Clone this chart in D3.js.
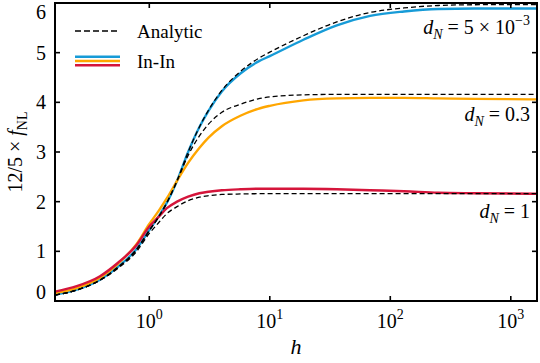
<!DOCTYPE html>
<html>
<head>
<meta charset="utf-8">
<script src="https://cdn.jsdelivr.net/npm/d3@7"></script>
<style>
  body { margin: 0; background: #fff; }
  svg { display: block; }
</style>
</head>
<body>
<svg id="chart" width="540" height="363"></svg>
<script>
// sample points along h (shared by every curve)
const hVals = [0.165, 0.25, 0.39, 0.55, 0.78, 1.0, 1.2, 1.4, 1.7, 2.1, 2.6, 3.1, 4, 5.7, 8, 10, 19, 36, 68, 130, 250, 500, 1650];

// analytic curves (dashed)
const anaSmall = [0.12, 0.22, 0.42, 0.68, 1.03, 1.42, 1.70, 1.98, 2.42, 3.0, 3.5, 3.84, 4.24, 4.62, 4.88, 5.01, 5.34, 5.62, 5.81, 5.9, 5.95, 5.965, 5.97];
const anaMid = [0.12, 0.22, 0.42, 0.68, 1.03, 1.42, 1.70, 1.98, 2.42, 2.93, 3.32, 3.56, 3.8, 3.96, 4.07, 4.11, 4.15, 4.16, 4.16, 4.16, 4.16, 4.16, 4.16];
const anaOne = [0.12, 0.22, 0.42, 0.66, 0.99, 1.36, 1.58, 1.76, 1.9, 2.02, 2.09, 2.12, 2.145, 2.155, 2.16, 2.16, 2.16, 2.16, 2.16, 2.16, 2.16, 2.16, 2.16];

// in-in curves
const ininSmall = [0.13, 0.23, 0.43, 0.69, 1.04, 1.43, 1.71, 1.98, 2.42, 3.0, 3.5, 3.83, 4.22, 4.58, 4.82, 4.93, 5.26, 5.55, 5.74, 5.83, 5.88, 5.89, 5.89];
const ininMid = [0.16, 0.26, 0.47, 0.75, 1.14, 1.55, 1.82, 2.07, 2.42, 2.78, 3.08, 3.29, 3.52, 3.73, 3.87, 3.93, 4.04, 4.08, 4.09, 4.09, 4.08, 4.07, 4.06];
const ininOne = [0.19, 0.3, 0.5, 0.77, 1.12, 1.5, 1.7, 1.87, 2.0, 2.1, 2.17, 2.2, 2.23, 2.25, 2.26, 2.26, 2.26, 2.25, 2.23, 2.21, 2.18, 2.17, 2.16];

const xTicks = [1, 10, 100, 1000];
const yTicks = [0, 1, 2, 3, 4, 5, 6];
const colors = ["#179bd7", "#ffa600", "#d5153b"];

const font = "'Liberation Serif', 'Times New Roman', 'DejaVu Serif', 'Noto Serif', serif";

const svg = d3.select("#chart").attr("font-family", font);
const margin = { top: 3, right: 3, bottom: 62, left: 55 };
const width = 540, height = 363;

const x = d3.scaleLog().domain([0.165, 1650]).range([margin.left, width - margin.right]);
const y = d3.scaleLinear().domain([0, 6]).range([height - margin.bottom, margin.top]);

const line = (vals) => d3.line()
  .x((d, i) => x(hVals[i]))
  .y((d) => y(d))
  .curve(d3.curveMonotoneX)(vals);

const plot = svg.append("g");

[ininSmall, ininMid, ininOne].forEach((vals, k) => {
  plot.append("path")
    .attr("d", line(vals))
    .attr("fill", "none")
    .attr("stroke", colors[k])
    .attr("stroke-width", 2.4);
});

[anaSmall, anaMid, anaOne].forEach((vals) => {
  plot.append("path")
    .attr("d", line(vals))
    .attr("fill", "none")
    .attr("stroke", "#000")
    .attr("stroke-width", 1.3)
    .attr("stroke-dasharray", "5,3");
});

// ticks pointing inward on all four sides
const tickLen = 5;
const tg = svg.append("g").attr("stroke", "#000").attr("stroke-width", 1.6);
xTicks.forEach((t) => {
  tg.append("line").attr("x1", x(t)).attr("x2", x(t)).attr("y1", y(0)).attr("y2", y(0) - tickLen);
  tg.append("line").attr("x1", x(t)).attr("x2", x(t)).attr("y1", y(6)).attr("y2", y(6) + tickLen);
});
yTicks.forEach((t) => {
  tg.append("line").attr("x1", x.range()[0]).attr("x2", x.range()[0] + tickLen).attr("y1", y(t)).attr("y2", y(t));
  tg.append("line").attr("x1", x.range()[1]).attr("x2", x.range()[1] - tickLen).attr("y1", y(t)).attr("y2", y(t));
});

// frame
svg.append("rect")
  .attr("x", margin.left).attr("y", margin.top)
  .attr("width", x.range()[1] - margin.left)
  .attr("height", y(0) - margin.top)
  .attr("fill", "none").attr("stroke", "#000").attr("stroke-width", 2);

// tick labels
yTicks.forEach((t) => {
  let shift = 0;
  if (t === 0) shift = -9;
  if (t === 6) shift = 9;
  svg.append("text")
    .attr("x", margin.left - 9)
    .attr("y", y(t) + shift + 7)
    .attr("text-anchor", "end")
    .attr("font-size", 20)
    .text(t);
});

xTicks.forEach((t) => {
  const lab = svg.append("text")
    .attr("x", x(t))
    .attr("y", 328)
    .attr("text-anchor", "middle")
    .attr("font-size", 20);
  lab.append("tspan").text("10");
  lab.append("tspan").attr("font-size", 14).attr("dy", -9).text(Math.round(Math.log10(t)));
});

// axis labels
svg.append("text")
  .attr("x", (margin.left + x.range()[1]) / 2)
  .attr("y", 354)
  .attr("text-anchor", "middle")
  .attr("font-size", 22)
  .attr("font-style", "italic")
  .text("h");

const yl = svg.append("text")
  .attr("transform", `translate(22,${(y(0) + y(6)) / 2}) rotate(-90)`)
  .attr("text-anchor", "middle")
  .attr("font-size", 20);
yl.append("tspan").text("12/5 × ");
yl.append("tspan").attr("font-style", "italic").text("f");
yl.append("tspan").attr("font-size", 14).attr("dy", 5).text("NL");

// annotations
const notes = [
  { label: "5 × 10", sup: "−3", yy: 34 },
  { label: "0.3", sup: null, yy: 121 },
  { label: "1", sup: null, yy: 218 }
];
notes.forEach((n) => {
  const t = svg.append("text")
    .attr("x", 530)
    .attr("y", n.yy)
    .attr("text-anchor", "end")
    .attr("font-size", 20);
  t.append("tspan").attr("font-style", "italic").text("d");
  t.append("tspan").attr("font-style", "italic").attr("font-size", 14).attr("dy", 5).text("N");
  t.append("tspan").attr("dy", -5).text(" = " + n.label);
  if (n.sup) t.append("tspan").attr("font-size", 14).attr("dy", -9).text(n.sup);
});

// legend
const lg = svg.append("g");
lg.append("line")
  .attr("x1", 75).attr("x2", 118).attr("y1", 31).attr("y2", 31)
  .attr("stroke", "#000").attr("stroke-width", 1.6).attr("stroke-dasharray", "6,3");
lg.append("text").attr("x", 137).attr("y", 38).attr("font-size", 19).text("Analytic");
colors.forEach((c, k) => {
  lg.append("line")
    .attr("x1", 75).attr("x2", 120)
    .attr("y1", 56.7 + k * 4.3).attr("y2", 56.7 + k * 4.3)
    .attr("stroke", c).attr("stroke-width", 2.4);
});
lg.append("text").attr("x", 137).attr("y", 68).attr("font-size", 19).text("In-In");
</script>
</body>
</html>
